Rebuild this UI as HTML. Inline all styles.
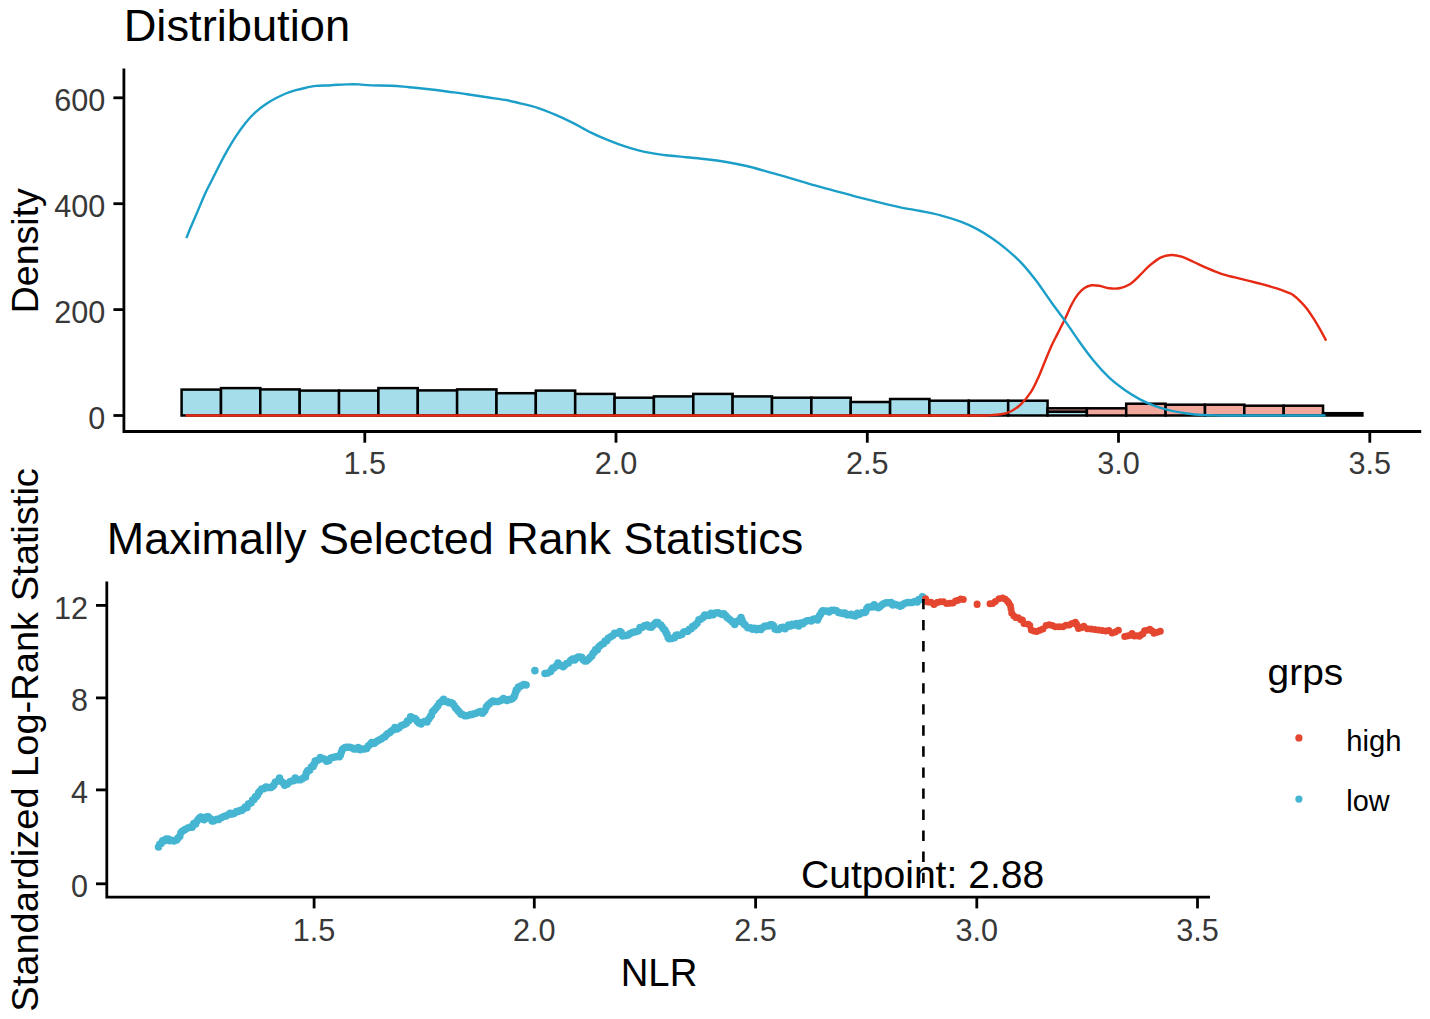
<!DOCTYPE html>
<html><head><meta charset="utf-8"><title>Cutpoint plot</title>
<style>html,body{margin:0;padding:0;background:#fff}body{width:1430px;height:1019px;overflow:hidden}</style>
</head><body>
<svg width="1430" height="1019" viewBox="0 0 1430 1019" style="display:block;font-family:'Liberation Sans',sans-serif">
<rect width="1430" height="1019" fill="#fff"/>
<g stroke="#000" stroke-width="2.5" stroke-linejoin="miter">
<rect x="181.6" y="389.6" width="39.36" height="25.9" fill="#A6DDEA"/>
<rect x="221.0" y="388.1" width="39.36" height="27.4" fill="#A6DDEA"/>
<rect x="260.3" y="389.4" width="39.36" height="26.1" fill="#A6DDEA"/>
<rect x="299.7" y="390.6" width="39.36" height="24.9" fill="#A6DDEA"/>
<rect x="339.0" y="390.6" width="39.36" height="24.9" fill="#A6DDEA"/>
<rect x="378.4" y="388.1" width="39.36" height="27.4" fill="#A6DDEA"/>
<rect x="417.8" y="390.4" width="39.36" height="25.1" fill="#A6DDEA"/>
<rect x="457.1" y="389.4" width="39.36" height="26.1" fill="#A6DDEA"/>
<rect x="496.5" y="393.2" width="39.36" height="22.3" fill="#A6DDEA"/>
<rect x="535.8" y="390.6" width="39.36" height="24.9" fill="#A6DDEA"/>
<rect x="575.2" y="393.9" width="39.36" height="21.6" fill="#A6DDEA"/>
<rect x="614.6" y="397.7" width="39.36" height="17.8" fill="#A6DDEA"/>
<rect x="653.9" y="396.4" width="39.36" height="19.1" fill="#A6DDEA"/>
<rect x="693.3" y="393.9" width="39.36" height="21.6" fill="#A6DDEA"/>
<rect x="732.6" y="396.4" width="39.36" height="19.1" fill="#A6DDEA"/>
<rect x="772.0" y="397.7" width="39.36" height="17.8" fill="#A6DDEA"/>
<rect x="811.4" y="397.7" width="39.36" height="17.8" fill="#A6DDEA"/>
<rect x="850.7" y="402.0" width="39.36" height="13.5" fill="#A6DDEA"/>
<rect x="890.1" y="399.0" width="39.36" height="16.5" fill="#A6DDEA"/>
<rect x="929.4" y="400.7" width="39.36" height="14.8" fill="#A6DDEA"/>
<rect x="968.8" y="400.7" width="39.36" height="14.8" fill="#A6DDEA"/>
<rect x="1008.2" y="400.7" width="39.36" height="14.8" fill="#A6DDEA"/>
<rect x="1047.5" y="411.6" width="39.36" height="3.9" fill="#A6DDEA"/>
<rect x="1047.5" y="408.3" width="39.36" height="3.3" fill="#F2A79C"/>
<rect x="1086.9" y="408.3" width="39.36" height="7.2" fill="#F2A79C"/>
<rect x="1126.2" y="403.7" width="39.36" height="11.8" fill="#F2A79C"/>
<rect x="1165.6" y="404.7" width="39.36" height="10.8" fill="#F2A79C"/>
<rect x="1205.0" y="404.7" width="39.36" height="10.8" fill="#F2A79C"/>
<rect x="1244.3" y="405.7" width="39.36" height="9.8" fill="#F2A79C"/>
<rect x="1283.7" y="405.7" width="39.36" height="9.8" fill="#F2A79C"/>
<rect x="1323.0" y="413.2" width="39.36" height="2.3" fill="#000"/>
</g>
<path d="M185.5 415.5H985.9C988.4 415.3 996.8 414.9 1001.0 414.2C1005.2 413.5 1007.8 412.9 1011.1 411.2C1014.5 409.5 1017.8 407.4 1021.1 404.1C1024.5 400.8 1028.2 396.2 1031.2 391.6C1034.2 387.0 1036.5 381.4 1038.8 376.4C1041.1 371.3 1042.9 366.3 1045.0 361.3C1047.1 356.3 1049.2 350.8 1051.3 346.2C1053.4 341.6 1055.3 338.2 1057.6 333.6C1059.9 329.0 1062.9 323.3 1065.2 318.5C1067.5 313.7 1069.4 308.7 1071.5 304.7C1073.6 300.7 1075.7 297.3 1077.8 294.6C1079.9 291.9 1081.8 289.9 1084.1 288.3C1086.4 286.8 1089.1 285.7 1091.6 285.3C1094.1 284.9 1096.3 285.3 1099.2 285.8C1102.1 286.3 1105.9 287.9 1109.2 288.3C1112.5 288.7 1115.9 288.9 1119.3 288.3C1122.7 287.7 1126.0 286.7 1129.4 284.6C1132.8 282.5 1136.2 278.9 1139.5 275.7C1142.8 272.5 1146.0 268.7 1149.5 265.7C1153.0 262.7 1156.9 259.4 1160.5 257.6C1164.1 255.8 1167.5 255.2 1171.0 255.0C1174.5 254.8 1177.7 255.5 1181.5 256.7C1185.3 257.9 1189.6 260.2 1193.7 262.0C1197.8 263.8 1201.5 265.7 1205.9 267.6C1210.3 269.5 1215.2 271.7 1219.9 273.3C1224.6 274.9 1229.2 276.0 1233.9 277.2C1238.6 278.4 1243.2 279.5 1247.9 280.7C1252.6 281.9 1257.2 282.9 1261.9 284.2C1266.6 285.4 1271.5 286.8 1275.9 288.2C1280.3 289.6 1285.2 291.4 1288.1 292.6C1291.0 293.8 1291.4 293.8 1293.4 295.2C1295.4 296.6 1298.0 299.0 1300.3 301.3C1302.6 303.6 1305.0 306.1 1307.3 309.2C1309.6 312.3 1312.1 316.2 1314.3 319.7C1316.5 323.2 1318.5 326.6 1320.5 330.1C1322.5 333.6 1325.2 338.9 1326.2 340.6" fill="none" stroke="#E62A14" stroke-width="2.4" stroke-linejoin="round"/>
<path d="M186.4 238.2C187.0 236.6 188.2 233.2 190.1 228.7C192.0 224.2 195.2 217.0 197.7 211.1C200.2 205.2 202.7 198.9 205.2 193.4C207.7 187.9 210.3 183.3 212.8 178.3C215.3 173.3 217.9 168.0 220.4 163.2C222.9 158.4 225.4 153.8 227.9 149.4C230.4 145.0 232.6 141.2 235.5 136.8C238.4 132.4 242.2 127.0 245.5 122.9C248.8 118.8 252.2 115.2 255.6 112.1C259.0 109.0 262.3 106.6 265.7 104.3C269.1 102.0 272.3 100.1 275.7 98.3C279.1 96.5 282.4 94.8 285.8 93.5C289.2 92.2 292.5 91.2 295.9 90.2C299.3 89.2 302.6 88.4 306.0 87.7C309.4 87.0 311.8 86.3 316.0 85.9C320.2 85.5 326.1 85.5 331.1 85.2C336.1 85.0 341.6 84.5 346.2 84.4C350.8 84.3 354.6 84.2 358.8 84.4C363.0 84.6 365.9 85.2 371.4 85.4C376.9 85.6 385.3 85.4 391.6 85.7C397.9 86.0 403.3 86.7 409.2 87.2C415.1 87.8 420.5 88.3 426.8 89.0C433.1 89.7 440.2 90.6 446.9 91.5C453.6 92.4 460.4 93.2 467.1 94.2C473.8 95.2 480.5 96.3 487.2 97.3C493.9 98.3 501.9 99.3 507.4 100.3C512.9 101.3 515.0 102.0 520.0 103.3C525.0 104.5 531.7 105.9 537.6 107.8C543.5 109.7 549.3 112.1 555.2 114.6C561.1 117.1 567.0 120.0 572.9 122.9C578.8 125.9 584.6 129.4 590.5 132.3C596.4 135.2 602.2 137.7 608.1 140.1C614.0 142.5 619.4 144.6 625.7 146.6C632.0 148.6 639.2 150.7 645.9 152.1C652.6 153.5 659.3 154.3 666.0 155.2C672.7 156.0 679.5 156.5 686.2 157.2C692.9 157.9 699.6 158.4 706.3 159.2C713.0 160.0 719.7 160.9 726.4 162.0C733.1 163.1 739.0 164.2 746.6 166.0C754.2 167.8 763.4 170.5 771.8 172.8C780.2 175.2 788.5 177.7 796.9 180.1C805.3 182.5 813.7 185.1 822.1 187.4C830.5 189.8 841.0 192.5 847.3 194.2C853.6 195.9 854.5 196.3 860.0 197.7C865.5 199.1 873.4 201.1 880.1 202.7C886.8 204.3 893.6 205.9 900.3 207.3C907.0 208.7 913.7 209.7 920.4 211.0C927.1 212.3 933.9 213.5 940.6 215.3C947.3 217.1 954.8 219.4 960.7 221.6C966.6 223.8 970.8 225.8 975.8 228.4C980.8 231.1 985.9 234.1 990.9 237.5C995.9 240.9 1001.0 244.6 1006.0 248.8C1011.0 253.0 1016.1 257.3 1021.1 262.6C1026.1 267.9 1031.2 274.2 1036.2 280.8C1041.2 287.4 1046.5 295.5 1051.3 302.2C1056.1 308.9 1060.6 314.6 1065.2 321.1C1069.8 327.6 1074.2 334.5 1079.0 341.2C1083.8 347.9 1089.1 355.2 1094.1 361.3C1099.1 367.4 1104.2 372.9 1109.2 377.7C1114.2 382.4 1119.4 386.2 1124.4 389.8C1129.5 393.4 1134.5 396.4 1139.5 399.1C1144.5 401.8 1149.6 404.0 1154.6 405.9C1159.6 407.8 1164.2 409.1 1169.7 410.4C1175.2 411.7 1181.8 412.7 1187.3 413.5C1192.8 414.3 1197.0 414.7 1202.4 415.0C1207.9 415.3 1217.1 415.4 1220.0 415.5H1325.5" fill="none" stroke="#1B9FC8" stroke-width="2.4" stroke-linejoin="round"/>
<g stroke="#000" stroke-width="2.8" fill="none">
<path d="M123.9 68.4V432.9M122.5 431.5H1421.2"/>
<path d="M113.4 97.8H123.9"/>
<path d="M113.4 203.7H123.9"/>
<path d="M113.4 309.6H123.9"/>
<path d="M113.4 415.5H123.9"/>
<path d="M364.8 431.5V442.7"/>
<path d="M616.0 431.5V442.7"/>
<path d="M867.3 431.5V442.7"/>
<path d="M1118.5 431.5V442.7"/>
<path d="M1369.8 431.5V442.7"/>
</g>
<g font-size="31.2" fill="#383838">
<text x="105.3" y="111.2" text-anchor="end" textLength="51.1" lengthAdjust="spacingAndGlyphs">600</text>
<text x="105.3" y="217.1" text-anchor="end" textLength="51.1" lengthAdjust="spacingAndGlyphs">400</text>
<text x="105.3" y="323.0" text-anchor="end" textLength="51.1" lengthAdjust="spacingAndGlyphs">200</text>
<text x="105.3" y="428.9" text-anchor="end" textLength="17.0" lengthAdjust="spacingAndGlyphs">0</text>
<text x="364.8" y="473.9" text-anchor="middle" textLength="42.6" lengthAdjust="spacingAndGlyphs">1.5</text>
<text x="616.0" y="473.9" text-anchor="middle" textLength="42.6" lengthAdjust="spacingAndGlyphs">2.0</text>
<text x="867.3" y="473.9" text-anchor="middle" textLength="42.6" lengthAdjust="spacingAndGlyphs">2.5</text>
<text x="1118.5" y="473.9" text-anchor="middle" textLength="42.6" lengthAdjust="spacingAndGlyphs">3.0</text>
<text x="1369.8" y="473.9" text-anchor="middle" textLength="42.6" lengthAdjust="spacingAndGlyphs">3.5</text>
</g>
<text x="123.7" y="40.7" font-size="45" textLength="226.4" lengthAdjust="spacingAndGlyphs" fill="#000">Distribution</text>
<text transform="translate(38,250.7) rotate(-90)" font-size="37.5" text-anchor="middle" fill="#000">Density</text>
<path d="M158.5 846.9h0M159.8 844.3h0M161.0 843.5h0M162.7 840.8h0M164.5 840.7h0M166.2 839.1h0M168.0 839.0h0M169.7 840.8h0M171.5 840.3h0M174.1 841.1h0M176.7 839.9h0M177.8 838.2h0M178.8 837.2h0M179.8 836.3h0M180.9 832.8h0M182.3 831.3h0M183.7 830.6h0M185.1 829.6h0M187.7 828.1h0M190.3 827.1h0M192.1 827.2h0M193.8 823.5h0M195.6 824.1h0M196.9 821.2h0M198.2 819.5h0M199.5 818.0h0M200.8 817.0h0M204.0 819.8h0M206.1 817.0h0M208.2 816.7h0M209.5 818.3h0M210.8 819.0h0M212.1 820.9h0M213.4 821.1h0M215.2 820.0h0M216.9 819.3h0M218.7 819.5h0M221.3 817.8h0M223.9 816.4h0M226.0 816.1h0M228.1 814.7h0M230.2 813.3h0M232.3 814.0h0M234.4 813.2h0M236.5 811.5h0M238.2 811.5h0M240.0 810.5h0M241.7 810.5h0M243.5 809.1h0M245.2 806.9h0M247.0 807.6h0M248.4 804.0h0M249.8 803.4h0M251.2 802.8h0M252.6 799.9h0M254.0 799.4h0M255.4 796.8h0M256.4 796.6h0M257.5 795.0h0M258.6 792.7h0M259.6 791.6h0M261.7 789.0h0M263.8 788.7h0M265.9 787.1h0M268.5 787.4h0M271.1 787.4h0M272.5 786.6h0M273.9 785.1h0M275.3 782.2h0M277.4 781.2h0M279.5 778.1h0M281.2 781.3h0M283.0 782.8h0M284.7 785.2h0M287.4 784.0h0M290.0 781.8h0M291.7 781.0h0M293.5 780.7h0M295.2 778.0h0M297.9 779.8h0M300.5 779.8h0M302.6 778.4h0M304.7 777.0h0M305.5 776.9h0M306.2 773.5h0M307.0 772.0h0M307.8 770.5h0M309.6 770.3h0M311.3 767.0h0M313.1 766.5h0M313.8 764.6h0M314.5 763.4h0M315.2 761.1h0M317.8 760.2h0M320.4 757.6h0M322.5 758.7h0M324.6 759.2h0M326.7 761.3h0M328.8 760.7h0M330.9 758.0h0M333.0 757.4h0M335.1 757.0h0M337.2 756.5h0M339.3 756.7h0M340.4 754.9h0M341.4 752.1h0M342.4 749.5h0M343.5 748.5h0M345.2 747.5h0M347.0 747.2h0M348.7 747.3h0M350.5 747.5h0M352.2 747.9h0M354.0 749.0h0M356.1 749.1h0M358.2 747.6h0M360.3 749.7h0M362.4 749.1h0M364.5 749.0h0M366.6 748.4h0M368.3 746.0h0M370.1 744.6h0M371.8 742.5h0M374.4 743.3h0M377.0 741.3h0M379.1 739.9h0M381.2 738.9h0M383.3 737.4h0M384.9 736.7h0M386.5 734.8h0M388.0 733.5h0M389.6 732.7h0M391.4 731.0h0M393.1 730.1h0M394.9 727.6h0M397.0 729.0h0M399.1 727.7h0M401.2 725.8h0M402.9 725.0h0M404.7 724.3h0M406.4 723.3h0M407.4 721.0h0M408.5 721.1h0M409.6 719.8h0M410.6 716.8h0M412.7 718.1h0M414.8 718.4h0M416.2 719.8h0M417.6 721.8h0M419.0 723.0h0M421.1 724.1h0M423.2 722.0h0M425.3 721.3h0M427.0 721.9h0M428.8 719.1h0M430.5 716.4h0M431.4 715.3h0M432.4 712.0h0M433.3 711.1h0M434.2 710.2h0M435.9 708.2h0M437.7 706.0h0M439.4 703.2h0M441.5 701.6h0M443.6 699.2h0M445.4 701.4h0M447.1 701.5h0M448.9 702.8h0M450.6 702.6h0M452.4 703.2h0M454.1 705.6h0M455.5 707.8h0M456.9 709.2h0M458.3 710.9h0M459.7 712.6h0M461.1 714.2h0M462.5 714.6h0M464.6 715.7h0M466.7 715.7h0M468.8 715.2h0M470.6 714.5h0M472.3 714.4h0M474.1 713.7h0M476.1 713.2h0M478.2 712.2h0M480.3 711.5h0M482.4 713.3h0M483.7 711.8h0M485.0 710.2h0M486.4 707.1h0M487.7 705.2h0M489.4 703.8h0M491.2 702.3h0M492.9 701.0h0M495.5 701.5h0M498.2 701.6h0M500.8 700.4h0M503.4 698.4h0M505.2 699.6h0M506.9 700.6h0M508.7 699.6h0M510.4 699.6h0M512.2 698.8h0M513.9 697.1h0M514.7 695.2h0M515.5 692.7h0M516.3 690.1h0M517.1 689.8h0M518.5 687.1h0M519.9 686.8h0M521.3 685.7h0M523.7 684.4h0M526.1 684.9h0M534.9 670.6h0M534.9 670.8h0M545.0 673.4h0M547.8 672.9h0M550.6 671.5h0M551.7 669.6h0M552.7 668.0h0M553.8 668.1h0M555.9 666.3h0M558.0 663.0h0M560.6 665.6h0M563.2 666.8h0M565.0 665.1h0M566.7 663.4h0M568.5 663.0h0M570.6 660.6h0M572.6 658.9h0M574.7 659.9h0M576.5 658.1h0M578.2 656.9h0M580.0 657.0h0M581.6 657.2h0M583.1 659.8h0M584.7 661.1h0M586.3 661.1h0M587.7 659.8h0M589.1 658.5h0M590.5 657.0h0M591.8 656.0h0M593.1 653.3h0M594.4 651.9h0M595.7 649.4h0M597.3 649.8h0M598.9 646.8h0M600.4 645.5h0M602.0 644.2h0M603.6 643.6h0M605.1 641.0h0M606.7 640.8h0M608.3 638.3h0M610.4 637.1h0M612.5 635.8h0M614.6 633.3h0M617.2 633.3h0M619.8 631.6h0M621.2 632.6h0M622.6 635.9h0M624.0 635.8h0M626.1 635.5h0M628.2 635.1h0M630.3 633.6h0M632.4 632.4h0M634.5 632.1h0M636.6 631.5h0M638.4 630.7h0M640.1 627.6h0M641.9 627.4h0M644.5 625.8h0M647.1 625.1h0M649.2 627.1h0M651.3 627.2h0M652.9 625.5h0M654.5 624.0h0M656.1 622.5h0M657.7 622.6h0M659.2 624.2h0M660.8 625.1h0M662.2 626.9h0M663.6 629.0h0M665.0 630.2h0M666.0 632.4h0M667.0 634.2h0M668.1 637.4h0M669.1 638.8h0M671.8 638.4h0M674.4 637.7h0M676.1 635.2h0M677.9 635.1h0M679.6 635.2h0M681.7 634.4h0M683.8 632.1h0M685.9 631.5h0M687.7 631.2h0M689.4 629.3h0M691.2 628.7h0M692.6 626.5h0M694.0 626.3h0M695.4 624.8h0M697.1 623.3h0M698.9 619.7h0M700.6 619.3h0M702.7 617.8h0M704.8 615.1h0M706.9 615.6h0M709.0 615.4h0M711.1 613.2h0M713.2 614.7h0M715.6 613.0h0M718.1 612.8h0M720.5 613.7h0M722.2 614.4h0M723.8 613.8h0M725.5 615.5h0M727.1 617.5h0M728.7 618.8h0M730.3 620.1h0M732.5 622.0h0M734.7 624.6h0M736.3 621.5h0M737.9 621.5h0M739.4 619.9h0M741.0 617.5h0M742.0 620.1h0M743.1 622.7h0M744.2 624.3h0M745.2 625.0h0M747.8 627.8h0M750.4 627.8h0M752.5 629.3h0M754.6 628.2h0M756.7 629.7h0M758.8 628.4h0M760.9 629.6h0M763.0 627.6h0M764.8 626.2h0M766.6 625.9h0M768.5 626.1h0M770.3 624.8h0M771.9 624.7h0M773.5 625.7h0M775.0 628.9h0M776.6 629.4h0M778.7 629.5h0M780.8 627.7h0M782.9 627.3h0M785.0 628.7h0M786.9 627.0h0M788.7 625.0h0M790.5 626.1h0M792.4 624.3h0M794.5 625.1h0M796.6 623.6h0M798.7 625.9h0M800.8 622.9h0M802.9 623.8h0M805.0 621.8h0M807.1 620.8h0M809.2 620.6h0M811.3 620.9h0M813.4 619.2h0M815.4 618.9h0M817.5 619.9h0M818.6 617.5h0M819.6 615.5h0M820.7 613.9h0M821.7 612.0h0M822.8 610.7h0M824.9 610.9h0M827.0 610.9h0M829.1 612.0h0M831.7 610.3h0M834.3 610.3h0M836.4 610.8h0M838.5 612.5h0M840.6 612.9h0M842.7 613.5h0M844.8 612.9h0M846.9 614.7h0M849.0 614.7h0M851.1 614.3h0M853.2 615.5h0M855.3 616.0h0M857.4 613.2h0M859.5 614.3h0M862.1 612.8h0M864.7 612.4h0M865.8 611.5h0M866.8 608.7h0M867.9 607.2h0M870.0 607.0h0M872.1 607.0h0M874.2 604.7h0M876.3 607.0h0M878.4 607.7h0M880.1 606.5h0M881.9 604.9h0M883.6 603.7h0M886.1 602.8h0M888.5 602.8h0M891.0 602.5h0M892.8 604.9h0M894.6 604.3h0M896.5 604.7h0M898.3 605.2h0M900.1 606.2h0M901.8 605.4h0M903.6 604.0h0M905.7 602.9h0M907.7 602.6h0M909.8 602.5h0M912.3 602.6h0M914.7 601.5h0M917.2 601.9h0M918.9 599.6h0M920.7 599.6h0M922.4 596.7h0" fill="none" stroke="#45B5D2" stroke-width="7.5" stroke-linecap="round"/>
<path d="M925.6 598.7h0M927.7 602.1h0M930.9 602.3h0M934.0 604.5h0M937.1 602.4h0M940.3 601.7h0M943.5 601.8h0M946.6 603.4h0M949.8 603.2h0M952.9 603.0h0M955.5 601.1h0M958.1 600.3h0M960.7 598.9h0M963.3 599.4h0M977.1 604.0h0M977.1 604.6h0M990.0 603.8h0M992.6 603.4h0M995.3 601.5h0M999.0 598.8h0M1002.6 598.0h0M1005.0 599.1h0M1007.3 601.1h0M1008.8 603.1h0M1010.4 605.7h0M1011.0 609.1h0M1011.7 612.9h0M1013.7 615.8h0M1015.7 617.4h0M1018.2 617.8h0M1020.8 619.8h0M1022.4 620.0h0M1024.0 623.4h0M1028.2 624.3h0M1029.8 625.6h0M1031.3 629.9h0M1033.9 631.1h0M1036.6 631.6h0M1039.8 630.3h0M1042.9 628.9h0M1046.1 625.6h0M1049.2 624.7h0M1052.3 625.4h0M1055.4 626.8h0M1059.1 626.8h0M1062.8 626.8h0M1065.9 625.2h0M1069.1 624.9h0M1072.2 623.4h0M1075.4 622.3h0M1076.4 623.7h0M1077.5 625.7h0M1078.5 628.4h0M1081.2 627.8h0M1083.8 626.2h0M1087.4 628.7h0M1091.1 628.9h0M1094.8 629.5h0M1098.5 629.9h0M1102.2 630.6h0M1105.8 630.9h0M1108.9 630.6h0M1112.1 633.1h0M1115.2 631.9h0M1118.4 630.3h0M1124.7 636.6h0M1127.1 636.0h0M1129.6 635.5h0M1132.0 633.6h0M1134.5 635.9h0M1136.9 635.8h0M1139.4 636.3h0M1141.1 634.8h0M1142.9 633.7h0M1144.6 630.7h0M1147.2 630.2h0M1149.8 629.2h0M1151.9 630.8h0M1154.0 633.2h0M1157.2 632.3h0M1160.3 631.3h0" fill="none" stroke="#E4462F" stroke-width="7.0" stroke-linecap="round"/>
<path d="M923.4 598.9V883.8" stroke="#000" stroke-width="2.6" stroke-dasharray="10.4 10.66" fill="none"/>
<text x="922.6" y="887.8" font-size="39.1" text-anchor="middle" fill="#000">Cutpoint: 2.88</text>
<g stroke="#000" stroke-width="2.8" fill="none">
<path d="M106.8 581.4V898.6M105.4 897.2H1210"/>
<path d="M96 605.4H106.8"/>
<path d="M96 697.9H106.8"/>
<path d="M96 789.9H106.8"/>
<path d="M96 883.8H106.8"/>
<path d="M314.1 897.2V908.4"/>
<path d="M534.3 897.2V908.4"/>
<path d="M755.6 897.2V908.4"/>
<path d="M976.8 897.2V908.4"/>
<path d="M1197.5 897.2V908.4"/>
</g>
<g font-size="31.2" fill="#383838">
<text x="88.1" y="618.8" text-anchor="end" textLength="34.0" lengthAdjust="spacingAndGlyphs">12</text>
<text x="88.1" y="711.3" text-anchor="end" textLength="17.0" lengthAdjust="spacingAndGlyphs">8</text>
<text x="88.1" y="803.3" text-anchor="end" textLength="17.0" lengthAdjust="spacingAndGlyphs">4</text>
<text x="88.1" y="897.2" text-anchor="end" textLength="17.0" lengthAdjust="spacingAndGlyphs">0</text>
<text x="314.1" y="940.9" text-anchor="middle" textLength="42.6" lengthAdjust="spacingAndGlyphs">1.5</text>
<text x="534.3" y="940.9" text-anchor="middle" textLength="42.6" lengthAdjust="spacingAndGlyphs">2.0</text>
<text x="755.6" y="940.9" text-anchor="middle" textLength="42.6" lengthAdjust="spacingAndGlyphs">2.5</text>
<text x="976.8" y="940.9" text-anchor="middle" textLength="42.6" lengthAdjust="spacingAndGlyphs">3.0</text>
<text x="1197.5" y="940.9" text-anchor="middle" textLength="42.6" lengthAdjust="spacingAndGlyphs">3.5</text>
</g>
<text x="106.8" y="554.2" font-size="45" textLength="696.4" lengthAdjust="spacingAndGlyphs" fill="#000">Maximally Selected Rank Statistics</text>
<text x="659" y="985.8" font-size="39" text-anchor="middle" textLength="76.6" lengthAdjust="spacingAndGlyphs" fill="#000">NLR</text>
<text transform="translate(38.0,739.9) rotate(-90)" font-size="37.5" text-anchor="middle" textLength="543.6" lengthAdjust="spacingAndGlyphs" fill="#000">Standardized Log-Rank Statistic</text>
<text x="1267.6" y="684.8" font-size="37.5" textLength="75.6" lengthAdjust="spacingAndGlyphs" fill="#000">grps</text>
<circle cx="1298.9" cy="737.9" r="3.6" fill="#E4462F"/><circle cx="1298.9" cy="799.1" r="3.6" fill="#45B5D2"/>
<text x="1346.3" y="751" font-size="30" textLength="55.2" lengthAdjust="spacingAndGlyphs" fill="#000">high</text>
<text x="1346.3" y="811.2" font-size="30" textLength="43.3" lengthAdjust="spacingAndGlyphs" fill="#000">low</text>
</svg>
</body></html>
